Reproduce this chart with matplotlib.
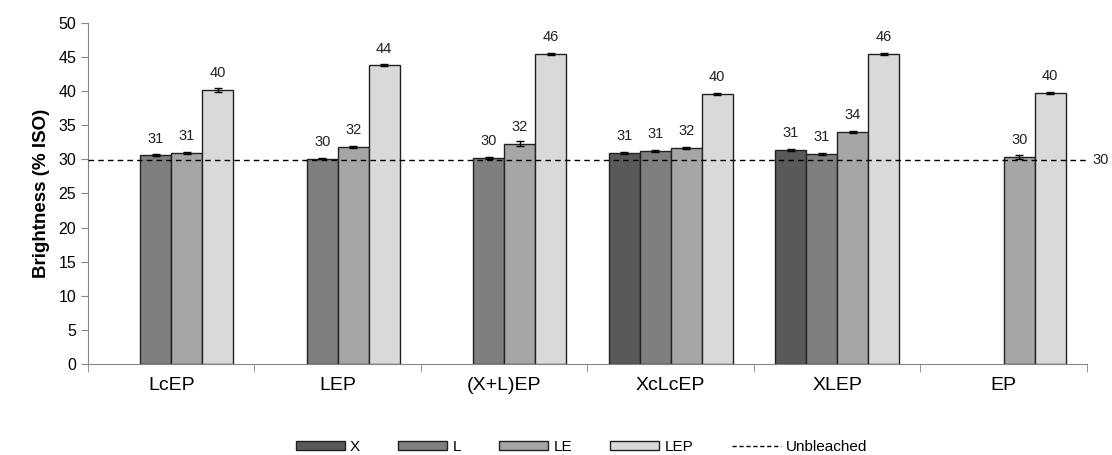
import numpy as np
import matplotlib
matplotlib.use("Agg")
import matplotlib.pyplot as plt
from matplotlib.lines import Line2D

plt.rcParams['font.family'] = ['Liberation Sans', 'DejaVu Sans']

# data
groups = ['LcEP', 'LEP', '(X+L)EP', 'XcLcEP', 'XLEP', 'EP']
series = ['X', 'L', 'LE', 'LEP']
x_vals = [np.nan, np.nan, np.nan, 31.0, 31.4, np.nan]
l_vals = [30.6, 30.1, 30.2, 31.2, 30.8, np.nan]
le_vals = [31.0, 31.8, 32.3, 31.7, 34.0, 30.35]
lep_vals = [40.2, 43.8, 45.5, 39.6, 45.5, 39.8]
x_err = [0, 0, 0, 0.15, 0.15, 0]
l_err = [0.15, 0.1, 0.1, 0.15, 0.1, 0]
le_err = [0.15, 0.15, 0.4, 0.15, 0.15, 0.25]
lep_err = [0.3, 0.15, 0.15, 0.15, 0.15, 0.15]
unbleached = 29.9

colors = ['#595959', '#7f7f7f', '#a6a6a6', '#d9d9d9']
all_vals = [x_vals, l_vals, le_vals, lep_vals]
all_err = [x_err, l_err, le_err, lep_err]

fig = plt.figure(figsize=(11.12, 4.55), dpi=100)
ax = fig.add_axes([0.0791, 0.2, 0.8984, 0.7495])

centers = np.arange(len(groups)) + 0.5
w = 0.186
for i, (vals, errs) in enumerate(zip(all_vals, all_err)):
    pos = centers + (i - 1.5) * w
    vals = np.array(vals)
    mask = ~np.isnan(vals)
    ax.bar(pos[mask], vals[mask], width=w, color=colors[i], edgecolor='#222222',
           linewidth=1.0, yerr=np.array(errs)[mask], capsize=3,
           error_kw=dict(ecolor='black', elinewidth=1, capthick=1), zorder=2)
    for p, v in zip(pos[mask], vals[mask]):
        ax.annotate(f'{v:.0f}', (p, v), xytext=(0, 7), textcoords='offset points',
                    ha='center', va='bottom', fontsize=10.5, color='#222222')

ax.axhline(unbleached, color='black', linestyle=(0, (4, 3)), linewidth=1, zorder=3)
ax.annotate('30', (1.0, unbleached), xycoords=('axes fraction', 'data'),
            xytext=(4, 0), textcoords='offset points', ha='left', va='center',
            fontsize=10.5, color='#222222')

ax.set_xlim(0, len(groups))
ax.set_ylim(0, 50)
ax.set_yticks(np.arange(0, 51, 5))
ax.set_xticks(np.arange(0, len(groups) + 1), minor=True)
ax.set_xticks(centers)
ax.set_xticklabels(groups, fontsize=14)
ax.tick_params(axis='x', which='major', length=0, pad=9)
ax.tick_params(axis='x', which='minor', length=6, color='#868686')
ax.tick_params(axis='y', labelsize=11.5, length=5, color='#868686')
ax.set_ylabel('Brightness (% ISO)', fontsize=13.5, fontweight='bold', labelpad=6)

for s in ['top', 'right']:
    ax.spines[s].set_visible(False)
for s in ['left', 'bottom']:
    ax.spines[s].set_color('#868686')

handles = [plt.Rectangle((0, 0), 1, 1, facecolor=c, edgecolor='#222222', linewidth=1) for c in colors]
handles.append(Line2D([0], [0], color='black', linestyle=(0, (3, 2)), linewidth=1))
fig.legend(handles, series + ['Unbleached'], loc='center', bbox_to_anchor=(0.523, 0.018),
           ncol=5, frameon=False, fontsize=11, handlelength=3.2, handleheight=0.5,
           handletextpad=0.35, columnspacing=2.5)

fig.savefig('out.png', dpi=100)
